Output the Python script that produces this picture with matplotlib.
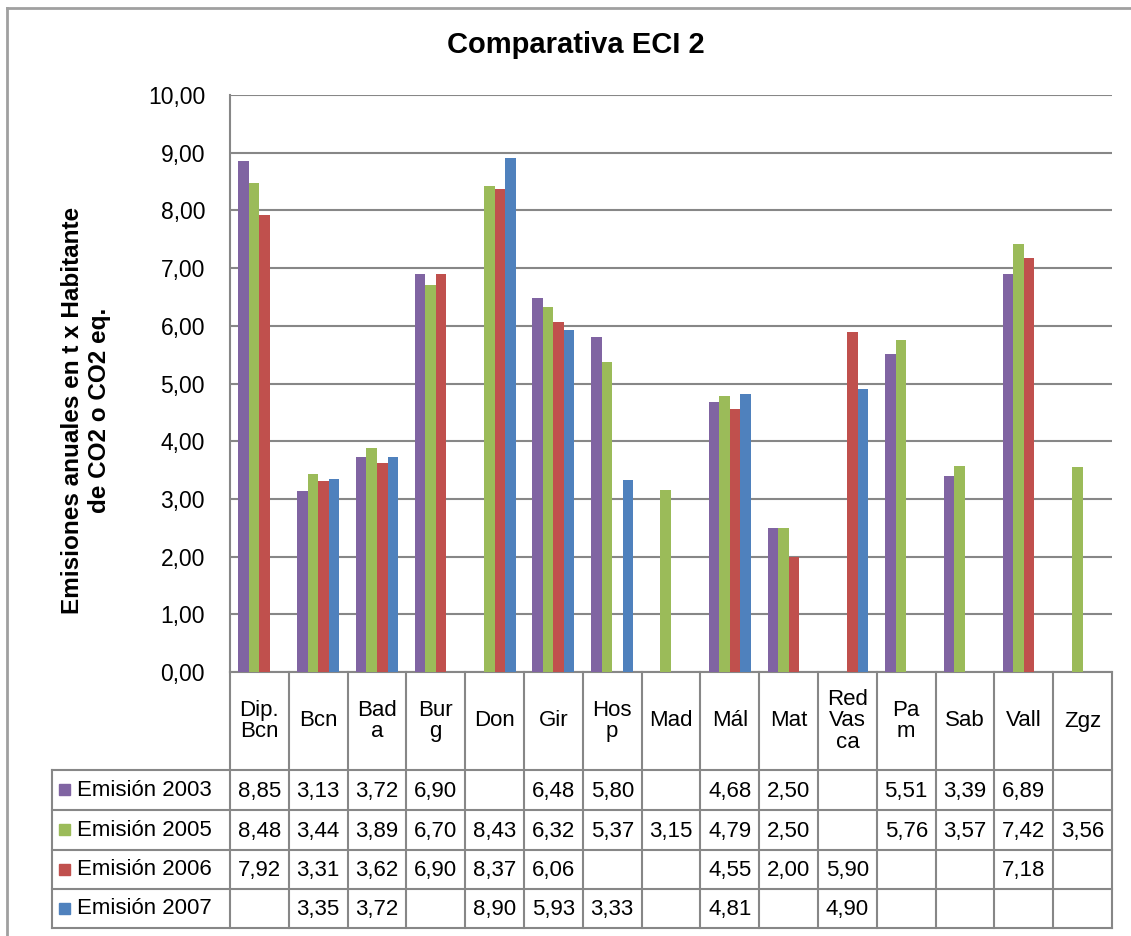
import numpy as np
import matplotlib
matplotlib.use("Agg")
import matplotlib.pyplot as plt
from matplotlib.patches import Rectangle

plt.rcParams['font.family'] = ['Liberation Sans', 'DejaVu Sans']

categorias = ["Dip.\nBcn", "Bcn", "Bad\na", "Bur\ng", "Don", "Gir", "Hos\np", "Mad",
              "Mál", "Mat", "Red\nVas\nca", "Pa\nm", "Sab", "Vall", "Zgz"]
nan = np.nan
emision_2003 = [8.85, 3.13, 3.72, 6.90, nan, 6.48, 5.80, nan, 4.68, 2.50, nan, 5.51, 3.39, 6.89, nan]
emision_2005 = [8.48, 3.44, 3.89, 6.70, 8.43, 6.32, 5.37, 3.15, 4.79, 2.50, nan, 5.76, 3.57, 7.42, 3.56]
emision_2006 = [7.92, 3.31, 3.62, 6.90, 8.37, 6.06, nan, nan, 4.55, 2.00, 5.90, nan, nan, 7.18, nan]
emision_2007 = [nan, 3.35, 3.72, nan, 8.90, 5.93, 3.33, nan, 4.81, nan, 4.90, nan, nan, nan, nan]
series = ["Emisión 2003", "Emisión 2005", "Emisión 2006", "Emisión 2007"]
valores = [emision_2003, emision_2005, emision_2006, emision_2007]
colores = ["#8064A2", "#9BBB59", "#C0504D", "#4F81BD"]
yticks = np.arange(0, 11, 1)

W, H = 1131, 936
fig = plt.figure(figsize=(W / 100, H / 100), dpi=100)
fig.patch.set_facecolor("white")

# layout in pixels
px_left, px_right, px_top, px_bottom = 230, 1112, 95, 672
gris = "#878787"

# overlay for frame and table (pixel coords)
ov = fig.add_axes([0, 0, 1, 1])
ov.set_xlim(0, W)
ov.set_ylim(H, 0)
ov.axis("off")

ax = fig.add_axes([px_left / W, (H - px_bottom) / H, (px_right - px_left) / W, (px_bottom - px_top) / H])
ax.set_facecolor("none")

n = len(categorias)
x = np.arange(n)
bw = 0.179
for j, (nombre, vals, col) in enumerate(zip(series, valores, colores)):
    ax.bar(x + (j - 1.5) * bw, vals, width=bw, color=col, zorder=3)

ax.set_xlim(-0.5, n - 0.5)
ax.set_ylim(0, 10)
ax.set_yticks(yticks)
ax.set_yticklabels([f"{v:.2f}".replace(".", ",") for v in yticks], fontsize=16.5)
ax.tick_params(axis="y", length=0, pad=18)
ax.set_xticks([])
ax.grid(axis="y", color=gris, linewidth=1.5, zorder=0)
for s in ["top", "right", "bottom"]:
    ax.spines[s].set_visible(False)
ax.spines["left"].set_color(gris)
ax.spines["left"].set_linewidth(1.5)

ax.text(-0.163, 0.454, "Emisiones anuales en t x Habitante\nde CO2 o CO2 eq.", transform=ax.transAxes,
        rotation=90, ha="center", va="center", fontsize=17.5, fontweight="bold", linespacing=1.2)

fig.text(576 / W, 1 - 45 / H, "Comparativa ECI 2", ha="center", va="center",
         fontsize=21, fontweight="bold")

# outer frame
ov.plot([7, W], [8, 8], color="#a0a0a0", lw=2)
ov.plot([7, 7], [8, H], color="#a0a0a0", lw=2)

# data table
colw = (px_right - px_left) / n
filas = [672, 770, 810, 850, 889, 928]
leg_left = 52
lw_t = 1.5
# horizontal lines
ov.plot([px_left, px_right], [filas[0], filas[0]], color=gris, lw=lw_t)
for yy in filas[1:]:
    ov.plot([leg_left, px_right], [yy, yy], color=gris, lw=lw_t)
# vertical lines
ov.plot([leg_left, leg_left], [filas[1], filas[-1]], color=gris, lw=lw_t)
for i in range(n + 1):
    xx = px_left + i * colw
    ov.plot([xx, xx], [filas[0], filas[-1]], color=gris, lw=lw_t)

for i, cat in enumerate(categorias):
    ov.text(px_left + (i + 0.5) * colw, (filas[0] + filas[1]) / 2, cat, ha="center", va="center",
            fontsize=16, linespacing=1.05)

for r, (nombre, vals, col) in enumerate(zip(series, valores, colores)):
    yc = (filas[r + 1] + filas[r + 2]) / 2
    ov.add_patch(Rectangle((59, yc - 6), 11, 11, color=col))
    ov.text(77, yc, nombre, ha="left", va="center", fontsize=16)
    for i, v in enumerate(vals):
        if not np.isnan(v):
            ov.text(px_left + (i + 0.5) * colw, yc + 1, f"{v:.2f}".replace(".", ","),
                    ha="center", va="center", fontsize=16)

fig.savefig("out.png", dpi=100)
